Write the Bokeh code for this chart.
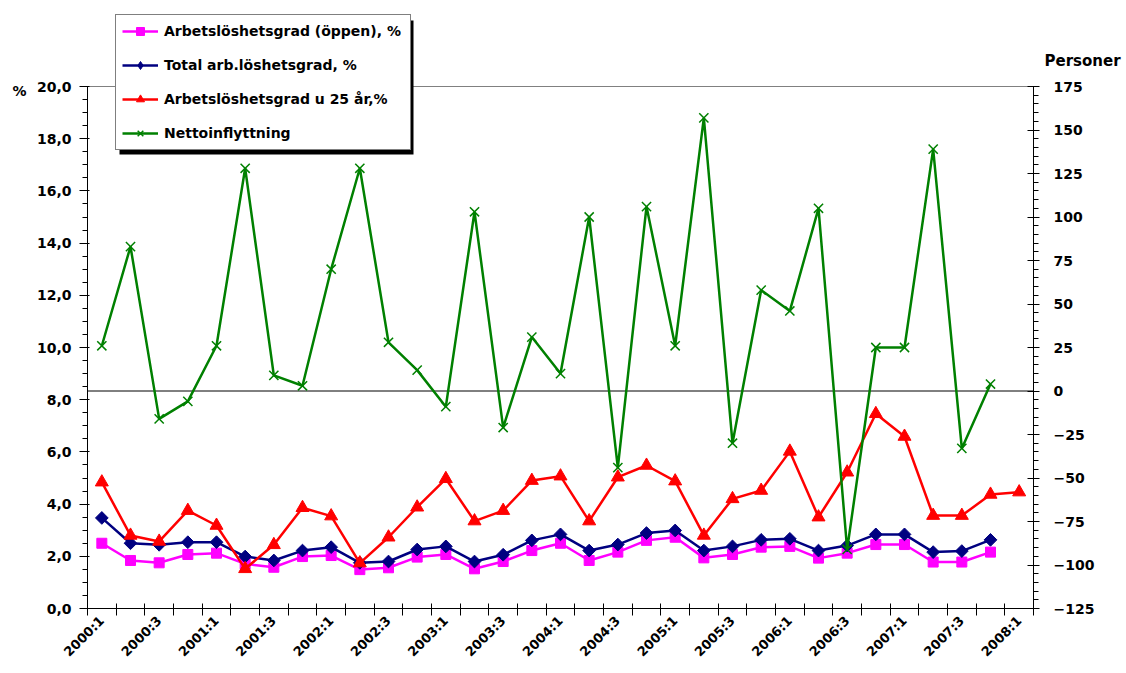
import numpy as np
from bokeh.plotting import figure
from bokeh.models import (Range1d, LinearAxis, FixedTicker, CustomJSTickFormatter,
                          Label, Legend, LegendItem, BoxAnnotation)
from bokeh.embed import file_html
from bokeh.resources import INLINE

quarters = ["2000:1", "2000:2", "2000:3", "2000:4", "2001:1", "2001:2", "2001:3", "2001:4",
            "2002:1", "2002:2", "2002:3", "2002:4", "2003:1", "2003:2", "2003:3", "2003:4",
            "2004:1", "2004:2", "2004:3", "2004:4", "2005:1", "2005:2", "2005:3", "2005:4",
            "2006:1", "2006:2", "2006:3", "2006:4", "2007:1", "2007:2", "2007:3", "2007:4",
            "2008:1"]

open_rate = [2.50, 1.84, 1.75, 2.07, 2.12, 1.71, 1.58, 1.99, 2.03, 1.49, 1.56, 1.97,
             2.07, 1.52, 1.80, 2.22, 2.50, 1.84, 2.16, 2.61, 2.73, 1.94, 2.07, 2.35,
             2.38, 1.93, 2.12, 2.45, 2.45, 1.78, 1.78, 2.16]
total_rate = [3.47, 2.50, 2.44, 2.54, 2.54, 1.99, 1.84, 2.22, 2.35, 1.75, 1.80, 2.26,
              2.38, 1.80, 2.06, 2.61, 2.84, 2.22, 2.45, 2.89, 2.99, 2.22, 2.38, 2.63,
              2.67, 2.22, 2.41, 2.84, 2.84, 2.16, 2.20, 2.63]
youth_rate = [4.84, 2.80, 2.57, 3.75, 3.18, 1.52, 2.44, 3.86, 3.54, 1.74, 2.73, 3.88,
              4.97, 3.35, 3.75, 4.90, 5.07, 3.35, 5.03, 5.48, 4.88, 2.80, 4.20, 4.52,
              6.02, 3.50, 5.22, 7.46, 6.59, 3.56, 3.56, 4.37, 4.46]
net_migration = [26, 83, -16, -6, 26, 128, 9, 3, 70, 128, 28, 12, -9, 103, -21, 31,
                 10, 100, -44, 106, 26, 157, -30, 58, 46, 105, -91, 25, 25, 139, -33, 4]

series_names = ["Arbetslöshetsgrad (öppen), %", "Total arb.löshetsgrad, %",
                "Arbetslöshetsgrad u 25 år,%", "Nettoinflyttning"]
left_unit = "%"
right_unit = "Personer"
left_min, left_max = 0, 20
right_min, right_max = -125, 175
left_ticks = [0, 2, 4, 6, 8, 10, 12, 14, 16, 18, 20]
right_ticks = [-125, -100, -75, -50, -25, 0, 25, 50, 75, 100, 125, 150, 175]

FONT = "DejaVu Sans"

# page layout (pixels): whole canvas is the frame, plot area inside it
W, H = 1126, 673
FL, FR, FT, FB = 87, 1033, 86, 608

n = len(quarters)
kx = (FR - FL) / n
ky = (FB - FT) / (left_max - left_min)
kr = (FB - FT) / (right_max - right_min)

p = figure(width=W, height=H,
           x_range=Range1d(-FL / kx, n + (W - FR) / kx),
           y_range=Range1d(left_min - (H - FB) / ky, left_max + FT / ky),
           output_backend="svg", toolbar_location=None,
           min_border_left=0, min_border_right=0, min_border_top=0, min_border_bottom=0)
p.extra_y_ranges = {"right": Range1d(right_min - (H - FB) / kr, right_max + FT / kr)}
p.xgrid.visible = False
p.ygrid.visible = False
p.outline_line_color = None
p.background_fill_color = "white"
p.border_fill_color = "white"


def style_axis(ax):
    ax.major_label_text_font = FONT
    ax.major_label_text_font_style = "bold"
    ax.major_label_text_font_size = "14px"
    ax.major_label_text_color = "black"
    ax.axis_line_color = "black"
    ax.major_tick_line_color = "black"
    ax.minor_tick_line_color = "black"


# bottom axis
xa = p.xaxis[0]
style_axis(xa)
xa.fixed_location = left_min
xa.bounds = (0, n)
xa.major_label_text_font_size = "13px"
xa.ticker = FixedTicker(ticks=[i + 0.5 for i in range(0, n, 2)], minor_ticks=list(range(0, n + 1)))
xa.formatter = CustomJSTickFormatter(args=dict(labels=quarters),
                                     code="return labels[Math.floor(tick)] || '';")
xa.major_tick_in = 0
xa.major_tick_out = 0
xa.minor_tick_in = 5
xa.minor_tick_out = 7
xa.major_label_orientation = np.pi / 4
xa.major_label_standoff = 3

# left axis
ya = p.yaxis[0]
style_axis(ya)
ya.fixed_location = 0
ya.bounds = (left_min, left_max)
ya.ticker = FixedTicker(ticks=left_ticks, minor_ticks=[v * 0.5 for v in range(0, 41)])
ya.formatter = CustomJSTickFormatter(code="return tick.toFixed(1).replace('.', ',');")
ya.major_tick_in = 2
ya.major_tick_out = 8
ya.minor_tick_in = 0
ya.minor_tick_out = 5
ya.major_label_standoff = 8

# right axis
ra = LinearAxis(y_range_name="right", fixed_location=n, bounds=(right_min, right_max))
style_axis(ra)
ra.ticker = FixedTicker(ticks=right_ticks, minor_ticks=list(range(right_min, right_max + 1, 5)))
ra.major_tick_in = 6
ra.major_tick_out = 6
ra.minor_tick_in = 0
ra.minor_tick_out = 5
ra.major_label_standoff = 14
p.add_layout(ra, "right")

# top edge of the plot area and zero line of the right axis
p.line([0, n], [left_max, left_max], line_color="#808080", line_width=1)
p.line([0, n], [0, 0], y_range_name="right", line_color="black", line_width=1)

x32 = np.arange(len(open_rate)) + 0.5
x33 = np.arange(len(youth_rate)) + 0.5
xg = np.arange(len(net_migration)) + 0.5

l1 = p.line(x32, open_rate, line_color="#FF00FF", line_width=2.5)
m1 = p.scatter(x32, open_rate, marker="square", size=10, fill_color="#FF00FF", line_color="#FF00FF")
l2 = p.line(x32, total_rate, line_color="#000080", line_width=2.5)
m2 = p.scatter(x32, total_rate, marker="square", angle=np.pi / 4, size=9,
               fill_color="#000080", line_color="#000080")
l3 = p.line(x33, youth_rate, line_color="#FF0000", line_width=2.5)
m3 = p.scatter(x33, youth_rate, marker="triangle", size=13, fill_color="#FF0000", line_color="#FF0000")
l4 = p.line(xg, net_migration, y_range_name="right", line_color="#008000", line_width=2.5)
m4 = p.scatter(xg, net_migration, y_range_name="right", marker="x", size=13,
               line_color="#008000", line_width=1.5)

# legend-only diamond glyph (a single NaN point, never drawn in the plot)
m2_key = p.scatter(x=[np.nan], y=[np.nan], marker="diamond", size=15,
                   fill_color="#000080", line_color="#000080")

# legend with drop shadow (screen units measured from bottom-left of canvas)
LX, LTOP, LW, LH, SH = 115, 16, 294, 134, 4
p.add_layout(BoxAnnotation(left=LX + SH, right=LX + LW + SH, top=H - LTOP - SH, bottom=H - LTOP - LH - SH,
                           left_units="screen", right_units="screen",
                           top_units="screen", bottom_units="screen",
                           fill_color="black", fill_alpha=1, line_color=None))

legend = Legend(items=[LegendItem(label=series_names[0], renderers=[l1, m1]),
                       LegendItem(label=series_names[1], renderers=[l2, m2_key]),
                       LegendItem(label=series_names[2], renderers=[l3, m3]),
                       LegendItem(label=series_names[3], renderers=[l4, m4])],
                location=(LX, H - LTOP - LH), border_line_color="black", border_line_width=1,
                background_fill_color="white", background_fill_alpha=1,
                label_text_font=FONT, label_text_font_style="bold", label_text_font_size="14px",
                label_text_color="black",
                glyph_width=36, glyph_height=20, label_height=20, label_width=240, spacing=14,
                padding=6, margin=0, label_standoff=6)
p.add_layout(legend)

p.add_layout(Label(x=19, y=H - 90, x_units="screen", y_units="screen", text=left_unit,
                   text_align="center", text_baseline="middle", text_font=FONT,
                   text_font_style="bold", text_font_size="14px", text_color="black"))
p.add_layout(Label(x=1044, y=H - 60, x_units="screen", y_units="screen", text=right_unit,
                   text_align="left", text_baseline="middle", text_font=FONT,
                   text_font_style="bold", text_font_size="15px", text_color="black"))

open("out.html", "w").write(file_html(p, INLINE))
